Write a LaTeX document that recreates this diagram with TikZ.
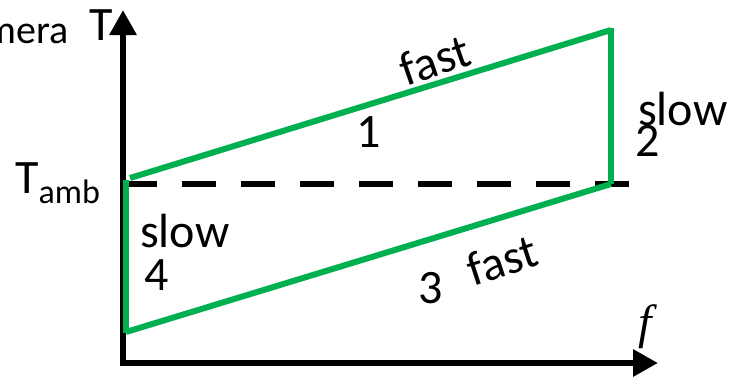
\documentclass[tikz,border=0pt]{standalone}
\usepackage{fontspec}
\setmainfont{Carlito}
\newfontfamily\serifit{Liberation Serif}
\usetikzlibrary{arrows.meta}
\definecolor{cyclegreen}{RGB}{0,176,80}
\tikzset{
  axis/.style={line width=6pt, black, {Triangle[length=25pt,width=26pt]}-{Triangle[length=25pt,width=26pt]}},
  ambient/.style={line width=6pt, black, dash pattern=on 34pt off 25pt},
  leg/.style={line width=6pt, cyclegreen},
  lbl/.style={inner sep=0pt, font=\fontsize{48}{48}\selectfont},
  small/.style={inner sep=0pt, font=\fontsize{40}{40}\selectfont}
}
\begin{document}
\begin{tikzpicture}[x=1pt, y=-1pt]
  \useasboundingbox (0,0) rectangle (731,378);
  \begin{scope}
    \clip (0,0) rectangle (731,378);

    % cut-off caption at the top left
    \node[small, anchor=base east] (cap) at (69,43) {mera};

    % axis labels
    \node[lbl, anchor=base] (tlabel) at (101,40) {T};
    \node[inner sep=0pt, anchor=base] (flabel) at (645,338)
      {\serifit\itshape\fontsize{48}{48}\selectfont f};
    \node[lbl, anchor=base west] (tamb) at (15,193)
      {T\raisebox{-10pt}{\fontsize{34}{34}\selectfont amb}};

    % axes
    \coordinate (ytip) at (123,10);
    \coordinate (origin) at (123,363);
    \coordinate (xtip) at (658,363);
    \draw[axis, line join=miter] (ytip) -- (origin) -- (xtip);

    % ambient temperature level
    \coordinate (amb0) at (123,184);
    \coordinate (amb1) at (631,184);
    \draw[ambient] (amb0) -- (amb1);

    % the four legs of the cycle
    \coordinate (a) at (126,333);
    \coordinate (b) at (126,180);
    \coordinate (b2) at (130,178);
    \coordinate (c) at (611,30);
    \coordinate (c2) at (611,28);
    \coordinate (d) at (611,184);
    \coordinate (a2) at (126,332);
    \draw[leg] (b2) -- (c);
    \draw[leg] (c2) -- (d);
    \draw[leg] (d) -- (a2);
    \draw[leg] (a) -- (b);

    % leg labels
    \node[lbl, rotate=19] (fast1) at (435,60) {fast};
    \node[lbl, anchor=base] (n1) at (369,147) {1};
    \node[lbl, anchor=base west] (slow2) at (638,125) {slow};
    \node[lbl, anchor=base] (n2) at (648,156) {2};
    \node[lbl, rotate=18] (fast3) at (502,260) {fast};
    \node[lbl, anchor=base] (n3) at (431,303) {3};
    \node[lbl, anchor=base west] (slow4) at (140,247) {slow};
    \node[lbl, anchor=base] (n4) at (157,290) {4};
  \end{scope}
\end{tikzpicture}
\end{document}
